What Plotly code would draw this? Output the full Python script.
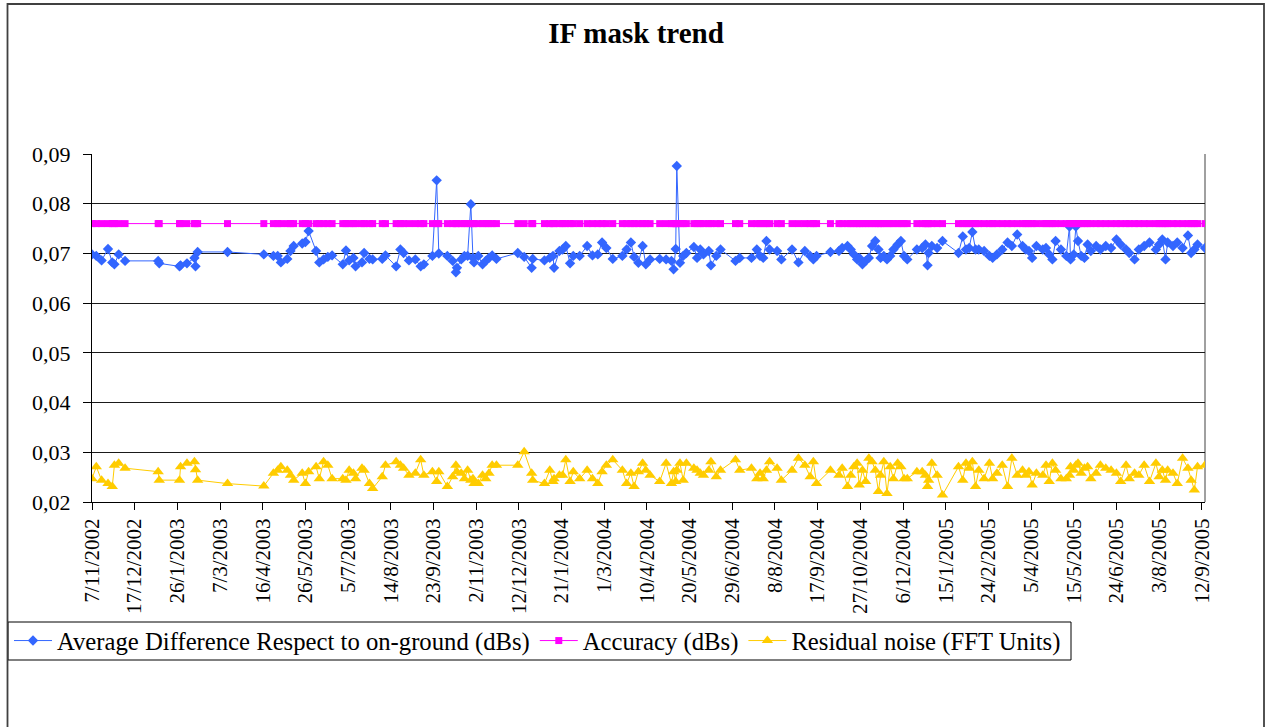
import pandas as pd
import plotly.graph_objects as go

# ---------------- data ----------------
START_DATE = "2002-11-07"

# measurement dates, as day offsets from START_DATE
day_offsets = [
    0, 4, 9, 15, 19, 21, 25, 31, 62, 63, 82, 83, 89, 96, 97, 99, 127, 161, 170,
    174, 177, 183, 186, 189, 197, 200, 203, 210, 213, 217, 221, 225, 235, 238, 241, 245, 247, 253, 255,
    260, 263, 272, 275, 285, 289, 292, 297, 303, 308, 311, 319, 323, 325, 333, 338, 341, 342, 346, 349,
    352, 355, 357, 358, 362, 366, 369, 372, 375, 379, 399, 405, 412, 413, 424, 429, 432, 433, 438, 441,
    444, 448, 451, 457, 464, 469, 474, 478, 482, 488, 497, 501, 505, 508, 512, 516, 519, 523,
    532, 538, 543, 545, 547, 548, 551, 554, 557, 564, 567, 570, 573, 578, 580, 585, 589, 603, 607, 618,
    623, 626, 629, 632, 635, 642, 646, 656, 662, 668, 673, 676, 679, 692, 700,
    703, 708, 711, 714, 717, 719, 722, 725, 728, 731, 734, 737, 739, 742, 745, 748, 751, 755, 758, 761,
    764, 773, 778, 781, 783, 784, 787, 792, 797, 812, 816, 819, 822, 825, 828, 831, 836, 841, 844, 848,
    853, 858, 862, 867, 872, 875,
    878, 881, 885, 891, 894, 897, 900, 903, 908, 913, 916, 917, 920, 922, 924, 927, 930, 933, 936, 941,
    945, 950, 955, 960, 964, 969, 972, 977, 981, 986, 991, 997, 1000, 1003, 1006, 1008, 1013, 1017, 1022, 1027,
    1030, 1033, 1036, 1043,
]

avg_difference = [
    0.0698, 0.0695, 0.0686, 0.0709, 0.0682, 0.0678, 0.0698, 0.0685, 0.0685, 0.0680, 0.0674, 0.0676, 0.0680, 0.0691, 0.0674, 0.0703, 0.0703, 0.0698, 0.0695,
    0.0695, 0.0682, 0.0689, 0.0705, 0.0715, 0.0720, 0.0723, 0.0745, 0.0705, 0.0682, 0.0688, 0.0693, 0.0696, 0.0678, 0.0706, 0.0686, 0.0691, 0.0674, 0.0682, 0.0701,
    0.0689, 0.0688, 0.0689, 0.0696, 0.0674, 0.0708, 0.0701, 0.0686, 0.0688, 0.0674, 0.0678, 0.0695, 0.0847, 0.0700, 0.0695, 0.0685, 0.0662, 0.0671, 0.0688, 0.0695,
    0.0695, 0.0799, 0.0691, 0.0682, 0.0695, 0.0678, 0.0685, 0.0691, 0.0696, 0.0689, 0.0701, 0.0693, 0.0671, 0.0689, 0.0686, 0.0691, 0.0695, 0.0671, 0.0705, 0.0708,
    0.0715, 0.0680, 0.0695, 0.0695, 0.0715, 0.0696, 0.0698, 0.0722, 0.0711, 0.0689, 0.0695, 0.0708, 0.0722, 0.0693, 0.0681, 0.0715, 0.0678, 0.0688,
    0.0689, 0.0688, 0.0685, 0.0668, 0.0709, 0.0876, 0.0681, 0.0695, 0.0701, 0.0713, 0.0691, 0.0708, 0.0698, 0.0705, 0.0676, 0.0695, 0.0708, 0.0685, 0.0691, 0.0691,
    0.0708, 0.0695, 0.0691, 0.0725, 0.0708, 0.0705, 0.0688, 0.0708, 0.0682, 0.0705, 0.0695, 0.0688, 0.0695, 0.0703, 0.0705,
    0.0711, 0.0715, 0.0708, 0.0698, 0.0688, 0.0691, 0.0678, 0.0685, 0.0691, 0.0715, 0.0725, 0.0708, 0.0691, 0.0695, 0.0688, 0.0695, 0.0708, 0.0718, 0.0725, 0.0695,
    0.0688, 0.0708, 0.0711, 0.0718, 0.0676, 0.0701, 0.0715, 0.0711, 0.0725, 0.0701, 0.0734, 0.0708, 0.0711, 0.0743, 0.0708, 0.0708, 0.0705, 0.0695, 0.0691, 0.0698,
    0.0708, 0.0722, 0.0715, 0.0738, 0.0715, 0.0708,
    0.0705, 0.0691, 0.0715, 0.0708, 0.0711, 0.0698, 0.0688, 0.0725, 0.0708, 0.0695, 0.0754, 0.0688, 0.0698, 0.0754, 0.0725, 0.0695, 0.0691, 0.0718, 0.0705, 0.0715,
    0.0708, 0.0715, 0.0711, 0.0728, 0.0718, 0.0708, 0.0701, 0.0688, 0.0708, 0.0715, 0.0722, 0.0708, 0.0718, 0.0728, 0.0688, 0.0722, 0.0715, 0.0722, 0.0711, 0.0736,
    0.0701, 0.0708, 0.0718, 0.0711,
]

residual_noise = [
    0.0247, 0.0271, 0.0244, 0.0237, 0.0231, 0.0274, 0.0278, 0.0268, 0.0261, 0.0244, 0.0244, 0.0271, 0.0278, 0.0281, 0.0265, 0.0244, 0.0237, 0.0232, 0.0258,
    0.0264, 0.0271, 0.0264, 0.0254, 0.0244, 0.0258, 0.0237, 0.0261, 0.0271, 0.0247, 0.0281, 0.0274, 0.0247, 0.0247, 0.0244, 0.0264, 0.0258, 0.0247, 0.0268, 0.0264,
    0.0237, 0.0227, 0.0251, 0.0274, 0.0281, 0.0274, 0.0268, 0.0254, 0.0258, 0.0285, 0.0254, 0.0261, 0.0241, 0.0261, 0.0231, 0.0251, 0.0274, 0.0261, 0.0258, 0.0247,
    0.0264, 0.0244, 0.0247, 0.0237, 0.0237, 0.0254, 0.0247, 0.0258, 0.0274, 0.0274, 0.0274, 0.0301, 0.0258, 0.0244, 0.0237, 0.0264, 0.0241, 0.0247, 0.0254, 0.0254,
    0.0285, 0.0241, 0.0261, 0.0247, 0.0264, 0.0247, 0.0237, 0.0261, 0.0274, 0.0285, 0.0264, 0.0237, 0.0258, 0.0231, 0.0261, 0.0278, 0.0264, 0.0254,
    0.0241, 0.0278, 0.0237, 0.0261, 0.0241, 0.0264, 0.0278, 0.0244, 0.0278, 0.0268, 0.0264, 0.0258, 0.0254, 0.0264, 0.0281, 0.0251, 0.0264, 0.0285, 0.0264, 0.0268,
    0.0247, 0.0258, 0.0247, 0.0264, 0.0281, 0.0268, 0.0244, 0.0264, 0.0288, 0.0274, 0.0251, 0.0281, 0.0237, 0.0264, 0.0254,
    0.0268, 0.0231, 0.0254, 0.0271, 0.0278, 0.0234, 0.0264, 0.0241, 0.0288, 0.0281, 0.0264, 0.0221, 0.0254, 0.0281, 0.0217, 0.0271, 0.0247, 0.0278, 0.0271, 0.0247,
    0.0247, 0.0261, 0.0261, 0.0254, 0.0231, 0.0244, 0.0278, 0.0254, 0.0214, 0.0271, 0.0244, 0.0278, 0.0268, 0.0281, 0.0231, 0.0264, 0.0247, 0.0278, 0.0247, 0.0258,
    0.0274, 0.0231, 0.0288, 0.0254, 0.0264, 0.0254,
    0.0261, 0.0234, 0.0258, 0.0254, 0.0274, 0.0241, 0.0278, 0.0264, 0.0247, 0.0247, 0.0254, 0.0271, 0.0264, 0.0274, 0.0278, 0.0258, 0.0268, 0.0271, 0.0247, 0.0258,
    0.0274, 0.0268, 0.0264, 0.0258, 0.0241, 0.0274, 0.0247, 0.0258, 0.0254, 0.0274, 0.0241, 0.0278, 0.0251, 0.0264, 0.0244, 0.0264, 0.0258, 0.0237, 0.0288, 0.0268,
    0.0244, 0.0224, 0.0271, 0.0274,
]

ACCURACY_DB = 0.076  # constant accuracy level shown for every measurement date
accuracy = [ACCURACY_DB for _ in day_offsets]

series_names = [
    "Average Difference Respect to on-ground (dBs)",
    "Accuracy (dBs)",
    "Residual noise (FFT Units)",
]
TITLE = "IF mask trend"
TICK_STEP_DAYS = 40
y_ticks = [0.02, 0.03, 0.04, 0.05, 0.06, 0.07, 0.08, 0.09]

# ---------------- figure ----------------
dates = pd.Timestamp(START_DATE) + pd.to_timedelta(day_offsets, unit="D")
tick_dates = pd.date_range(dates[0], dates[-1], freq=f"{TICK_STEP_DAYS}D")
tick_text = [f"{d.day}/{d.month}/{d.year}" for d in tick_dates]

FONT = "Liberation Serif"
W, H = 1271, 727
L, R, T, B = 92, 66, 154, 225
PW, PH = W - L - R, H - T - B


def px_x(px):
    return (px - L) / PW


def px_y(py):
    return (H - B - py) / PH


fig = go.Figure()
fig.add_trace(go.Scatter(
    x=dates, y=avg_difference, name=series_names[0], mode="lines+markers",
    line=dict(color="#3366FF", width=1),
    marker=dict(symbol="diamond", size=8, color="#3366FF"),
))
fig.add_trace(go.Scatter(
    x=dates, y=accuracy, name=series_names[1], mode="lines+markers",
    line=dict(color="#FF00FF", width=1),
    marker=dict(symbol="square", size=7, color="#FF00FF"),
))
fig.add_trace(go.Scatter(
    x=dates, y=residual_noise, name=series_names[2], mode="lines+markers",
    line=dict(color="#FFCC00", width=1),
    marker=dict(symbol="triangle-up", size=10, color="#FFCC00"),
))

fig.update_layout(
    width=W, height=H,
    margin=dict(l=L, r=R, t=T, b=B, autoexpand=False),
    paper_bgcolor="white", plot_bgcolor="white",
    separators=",.",
    font=dict(family=FONT, color="black", size=22),
    title=dict(text=f"<b>{TITLE}</b>", x=636 / W, xref="container", xanchor="center",
               y=1 - 33 / H, yref="container", yanchor="middle",
               font=dict(family=FONT, size=29, color="black")),
    showlegend=True,
    legend=dict(
        orientation="h", x=px_x(9), xanchor="left", y=px_y(618), yanchor="top",
        borderwidth=0, bgcolor="rgba(0,0,0,0)",
        font=dict(family=FONT, size=24.7, color="black"),
        itemwidth=38, tracegroupgap=0,
    ),
    xaxis=dict(
        type="date",
        range=[dates[0], dates[-1]],
        tickmode="array", tickvals=tick_dates, ticktext=tick_text,
        tickangle=-90, tickfont=dict(family=FONT, size=21, color="black"),
        ticks="outside", ticklen=7, tickcolor="black", tickwidth=1,
        ticklabelstandoff=0,
        showline=True, linecolor="black", linewidth=1,
        showgrid=False, zeroline=False, automargin=False,
    ),
    yaxis=dict(
        range=[0.02, 0.09],
        tickmode="array", tickvals=y_ticks, tickformat=".2f",
        tickfont=dict(family=FONT, size=22, color="black"),
        ticks="outside", ticklen=8, tickcolor="black", tickwidth=1,
        ticklabelstandoff=8,
        showline=True, linecolor="black", linewidth=1,
        showgrid=True, gridcolor="#1a1a1a", gridwidth=1,
        zeroline=False, automargin=False,
    ),
    shapes=[
        # right border of the plot area
        dict(type="line", xref="paper", yref="paper", x0=1, x1=1, y0=0, y1=1,
             line=dict(color="#808080", width=1.5), layer="below"),
        # legend box
        dict(type="rect", xref="paper", yref="paper",
             x0=px_x(8), x1=px_x(1071), y0=px_y(660), y1=px_y(622),
             line=dict(color="black", width=1), fillcolor="rgba(0,0,0,0)"),
        # outer chart frame
        dict(type="rect", xref="paper", yref="paper",
             x0=px_x(7.5), x1=px_x(1264), y0=px_y(745), y1=px_y(4),
             line=dict(color="#404040", width=1.8), fillcolor="rgba(0,0,0,0)"),
    ],
)

fig.write_html("out.html", config={"displayModeBar": False},
               post_script="document.body.style.margin='0px';")
